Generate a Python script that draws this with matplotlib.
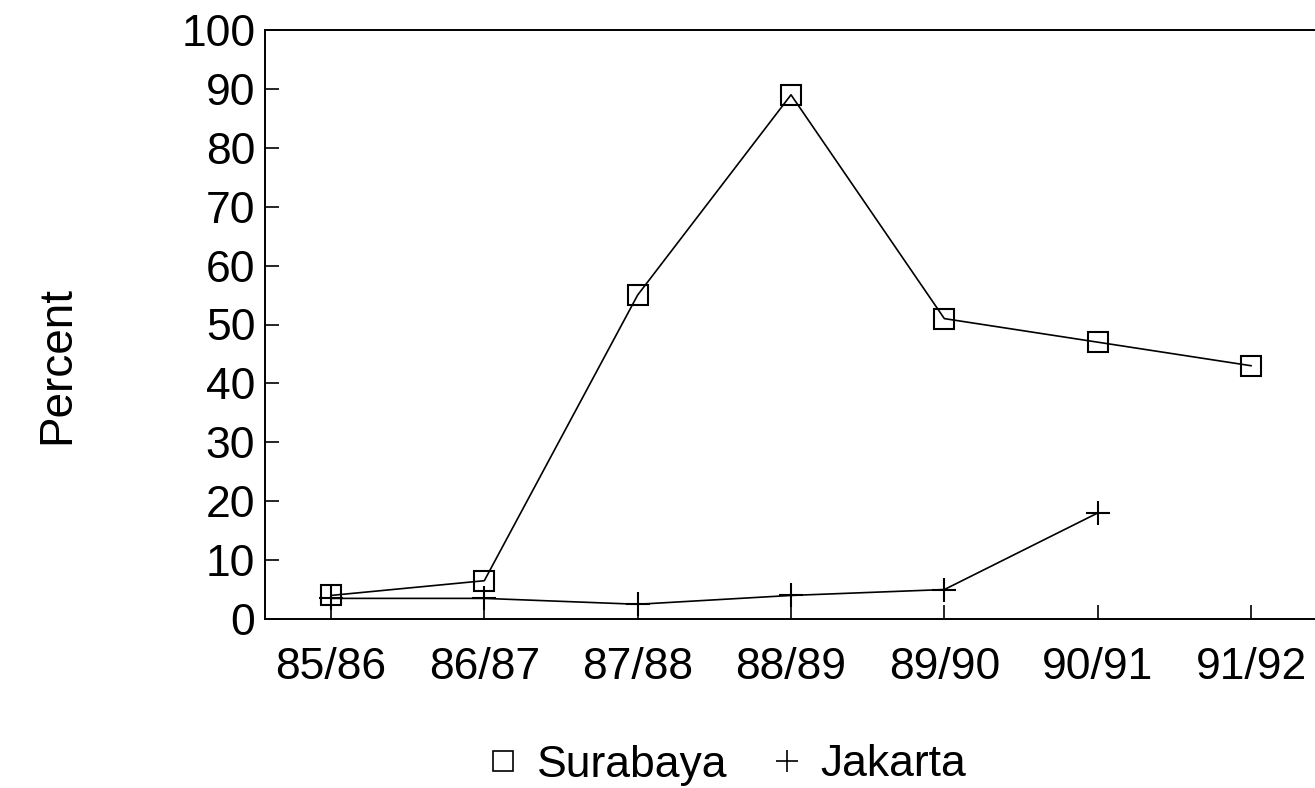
import matplotlib
matplotlib.use("Agg")
import matplotlib.pyplot as plt
from matplotlib.lines import Line2D

plt.rcParams["font.family"] = ["Liberation Sans", "DejaVu Sans"]

# values
years = ["85/86", "86/87", "87/88", "88/89", "89/90", "90/91", "91/92"]
surabaya = [4, 6.5, 55, 89, 51, 47, 43]
jakarta = [3.5, 3.5, 2.5, 4, 5, 18]
y_ticks = [0, 10, 20, 30, 40, 50, 60, 70, 80, 90, 100]

fig = plt.figure(figsize=(13.15, 7.88), dpi=100)
ax = fig.add_axes([265 / 1315, 1 - 619 / 788, 1052 / 1315, 589 / 788])

x_s = range(len(surabaya))
x_j = range(len(jakarta))
ax.plot(x_s, surabaya, color="black", lw=1.2, marker="s", ms=15,
        mfc="none", mec="black", mew=1.5)
ax.plot(x_j, jakarta, color="black", lw=1.2, marker="+", ms=17, mew=1.5)

ax.set_xlim(-0.43, 6.43)
ax.set_ylim(0, 100)
ax.set_xticks(range(len(years)))
ax.set_xticklabels(years)
ax.set_yticks(y_ticks)

for side in ("top", "left", "bottom"):
    ax.spines[side].set_linewidth(1.4)
ax.spines["right"].set_visible(False)

ax.tick_params(axis="x", direction="in", length=10, width=1.2,
               labelsize=32, pad=20)
ax.tick_params(axis="y", direction="in", length=10, width=1.2,
               labelsize=32, pad=7)

fig.text(57 / 1315, 1 - 365 / 788, "Percent", rotation=90, fontsize=33,
         ha="center", va="center")

handles = [
    Line2D([], [], ls="none", marker="s", ms=14, mfc="none", mec="black",
           mew=1.2, label="Surabaya"),
    Line2D([], [], ls="none", marker="+", ms=16, mec="black", mew=1.2,
           label="Jakarta"),
]
fig.legend(handles=handles, loc="center", ncol=2, frameon=False,
           fontsize=32, bbox_to_anchor=(727 / 1315, 1 - 765 / 788),
           handlelength=0.7, handletextpad=0.4, columnspacing=1.0)

fig.savefig("out.png", dpi=100)
